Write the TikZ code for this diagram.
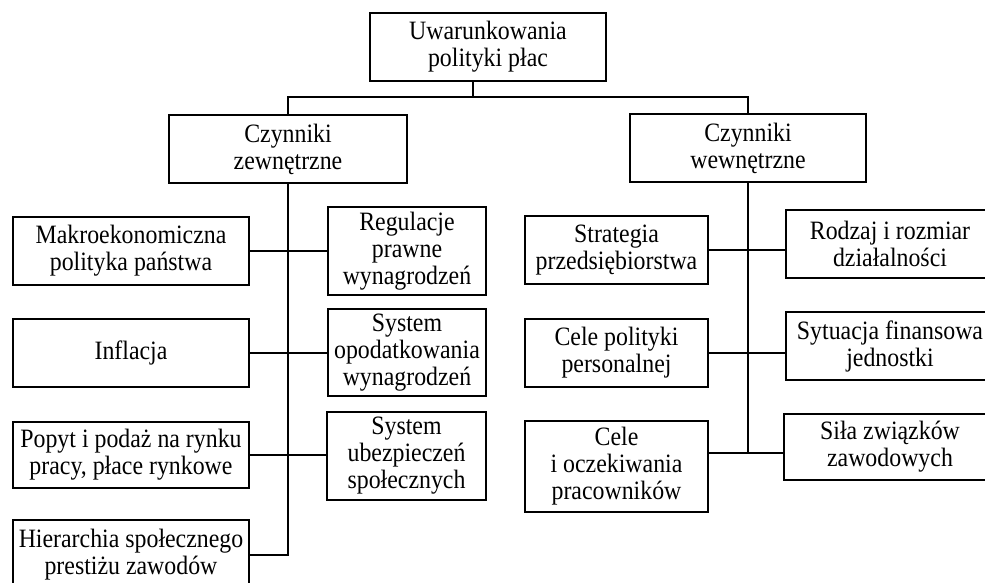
\documentclass[tikz,border=0pt]{standalone}
\usepackage{fontspec}
\setmainfont{Liberation Serif}[FakeStretch=0.9]
\newcommand{\BoxFont}{\fontsize{26.5}{27}\selectfont}
\newcommand{\LeftTrunk}{288}
\newcommand{\RightTrunk}{748}
\usetikzlibrary{positioning}
\tikzset{
  box/.style={draw,line width=1.3pt,align=center,inner sep=0pt,font=\BoxFont},
  branch/.style={line width=1.2pt},
  trunk/.style={line width=2.8pt}
}
\begin{document}
\begin{tikzpicture}[x=1pt,y=-1pt]
\useasboundingbox (0,0) rectangle (985,583);
\clip (0,0) rectangle (985,583);
\node[box,minimum width=236pt,minimum height=68pt] (top) at (488,47) {Uwarunkowania\\polityki płac};
\node[box,minimum width=238pt,minimum height=68pt] (ext) at (\LeftTrunk,149) {Czynniki\\zewnętrzne};
\node[box,minimum width=236pt,minimum height=68pt] (int) at (\RightTrunk,148) {Czynniki\\wewnętrzne};
\node[box,minimum width=236pt,minimum height=68pt] (makro) at (131,251) {Makroekonomiczna\\polityka państwa};
\node[box,minimum width=236pt,minimum height=68pt] (infl) at (131,353) {Inflacja};
\node[box,minimum width=236pt,minimum height=66pt] (popyt) at (131,455) {Popyt i podaż na rynku\\pracy, płace rynkowe};
\node[box,minimum width=236pt,minimum height=70pt] (hier) at (131,555) {Hierarchia społecznego\\prestiżu zawodów};
\node[box,minimum width=158pt,minimum height=88pt] (regul) at (407,251) {Regulacje\\prawne\\wynagrodzeń};
\node[box,minimum width=158pt,minimum height=87pt] (opod) at (407,352.5) {System\\opodatkowania\\wynagrodzeń};
\node[box,minimum width=159pt,minimum height=88pt] (ubezp) at (406.5,456) {System\\ubezpieczeń\\społecznych};
\node[box,minimum width=183pt,minimum height=68pt] (strat) at (616.5,250) {Strategia\\przedsiębiorstwa};
\node[box,minimum width=183pt,minimum height=68pt] (celep) at (616.5,353) {Cele polityki\\personalnej};
\node[box,minimum width=183pt,minimum height=91pt] (celeo) at (616.5,466.5) {Cele\\i oczekiwania\\pracowników};
\node[box,minimum width=208pt,minimum height=68pt] (rodz) at (890,244) {Rodzaj i rozmiar\\działalności};
\node[box,minimum width=208pt,minimum height=68pt] (syt) at (890,346) {Sytuacja finansowa\\jednostki};
\node[box,minimum width=212pt,minimum height=66pt] (sila) at (890,447) {Siła związków\\zawodowych};
\coordinate (split) at (473,97);
\coordinate (rend) at (\RightTrunk,453);
\draw[branch] (split |- top.south) -- (split);
\draw[branch] (ext.north) |- (split) -| (int.north);
\draw[trunk] (ext.south) |- (hier.east);
\draw[trunk] (int.south) -- (rend);
\draw[branch] (makro.east) -- (makro.east -| regul.west);
\draw[branch] (infl.east) -- (infl.east -| opod.west);
\draw[branch] (popyt.east) -- (popyt.east -| ubezp.west);
\draw[branch] (strat.east) -- (strat.east -| rodz.west);
\draw[branch] (celep.east) -- (celep.east -| syt.west);
\draw[branch] (celeo.east |- rend) -- (rend -| sila.west);
\end{tikzpicture}
\end{document}
